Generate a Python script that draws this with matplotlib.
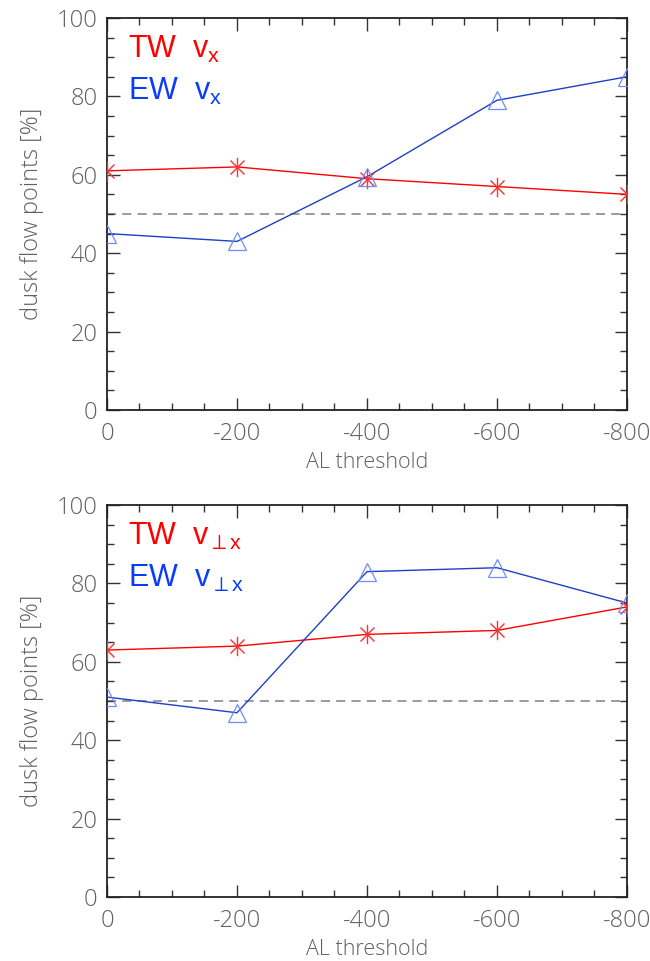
import matplotlib
matplotlib.use("Agg")
import matplotlib.pyplot as plt
from matplotlib.path import Path
from matplotlib.ticker import MultipleLocator

plt.rcParams['mathtext.fontset'] = 'custom'
plt.rcParams['mathtext.rm'] = 'Liberation Sans'
plt.rcParams['mathtext.it'] = 'Liberation Sans'

al_threshold = [0, -200, -400, -600, -800]
x_ticklabels = ['0', '-200', '-400', '-600', '-800']

# dusk flow fraction for v_x
tw_vx = [61, 62, 59, 57, 55]
ew_vx = [45, 43, 59.5, 79, 85]

# dusk flow fraction for v_perp,x
tw_vperp = [63, 64, 67, 68, 74]
ew_vperp = [51, 47, 83, 84, 75]

red = '#ff0000'
red_marker = '#ff3030'
blue_line = '#1f3fc4'
blue_marker = '#6e8cff'
blue_text = '#0a3cff'
axis_gray = '#606060'
thin_font = ['Open Sans', 'DejaVu Sans']

# asterisk: vertical bar plus two diagonals
asterisk = Path([(0, -1), (0, 1), (-0.72, -0.72), (0.72, 0.72), (-0.72, 0.72), (0.72, -0.72)],
                [Path.MOVETO, Path.LINETO, Path.MOVETO, Path.LINETO, Path.MOVETO, Path.LINETO])

fig = plt.figure(figsize=(6.5, 9.61), dpi=100)
ax1 = fig.add_axes([0.1646, 0.5734, 0.8, 0.4079])
ax2 = fig.add_axes([0.1646, 0.0666, 0.8, 0.4079])


def draw_panel(ax, tw, ew, tw_label, ew_label):
    ax.axhline(50, color='#808080', lw=1.1, ls=(0, (6, 4)), zorder=1)
    ax.plot(al_threshold, tw, color=red, lw=1.0, zorder=3)
    ax.plot(al_threshold, tw, ls='none', marker=asterisk, ms=14,
            mec=red_marker, mew=1.0, zorder=4)
    ax.plot(al_threshold, ew, color=blue_line, lw=1.0, zorder=3)
    ax.plot(al_threshold, ew, ls='none', marker='^', ms=13, mfc='none',
            mec=blue_marker, mew=0.9, zorder=4)

    ax.set_xlim(0, -800)
    ax.set_ylim(0, 100)
    ax.set_xticks(al_threshold)
    ax.set_xticklabels(x_ticklabels)
    ax.xaxis.set_minor_locator(MultipleLocator(50))
    ax.set_yticks([0, 20, 40, 60, 80, 100])
    ax.yaxis.set_minor_locator(MultipleLocator(5))
    ax.tick_params(which='both', direction='in', top=True, right=True,
                   color='#333333', labelcolor=axis_gray, labelsize=17, width=1.0)
    ax.tick_params(which='major', length=9)
    ax.tick_params(axis='x', which='major', pad=9)
    ax.tick_params(axis='y', which='major', pad=7)
    ax.tick_params(which='minor', length=5)
    for lab in ax.get_xticklabels() + ax.get_yticklabels():
        lab.set_family(thin_font)
        lab.set_weight('light')
    for sp in ax.spines.values():
        sp.set_color('#222222')
        sp.set_linewidth(1.3)

    ax.set_xlabel('AL threshold', fontsize=15.5, color=axis_gray, labelpad=4,
                  family=thin_font, weight='light')
    ax.set_ylabel('dusk flow points [%]', fontsize=17, color=axis_gray, labelpad=9,
                  family=thin_font, weight='light')

    ax.text(0.04, 0.92, tw_label, transform=ax.transAxes, color=red,
            fontsize=22, family='Liberation Sans', va='center')
    ax.text(0.04, 0.812, ew_label, transform=ax.transAxes, color=blue_text,
            fontsize=22, family='Liberation Sans', va='center')


draw_panel(ax1, tw_vx, ew_vx, r'TW  $\mathrm{v_x}$', r'EW  $\mathrm{v_x}$')
draw_panel(ax2, tw_vperp, ew_vperp, r'TW  $\mathrm{v_{\perp x}}$', r'EW  $\mathrm{v_{\perp x}}$')

fig.savefig('out.png', dpi=100)
